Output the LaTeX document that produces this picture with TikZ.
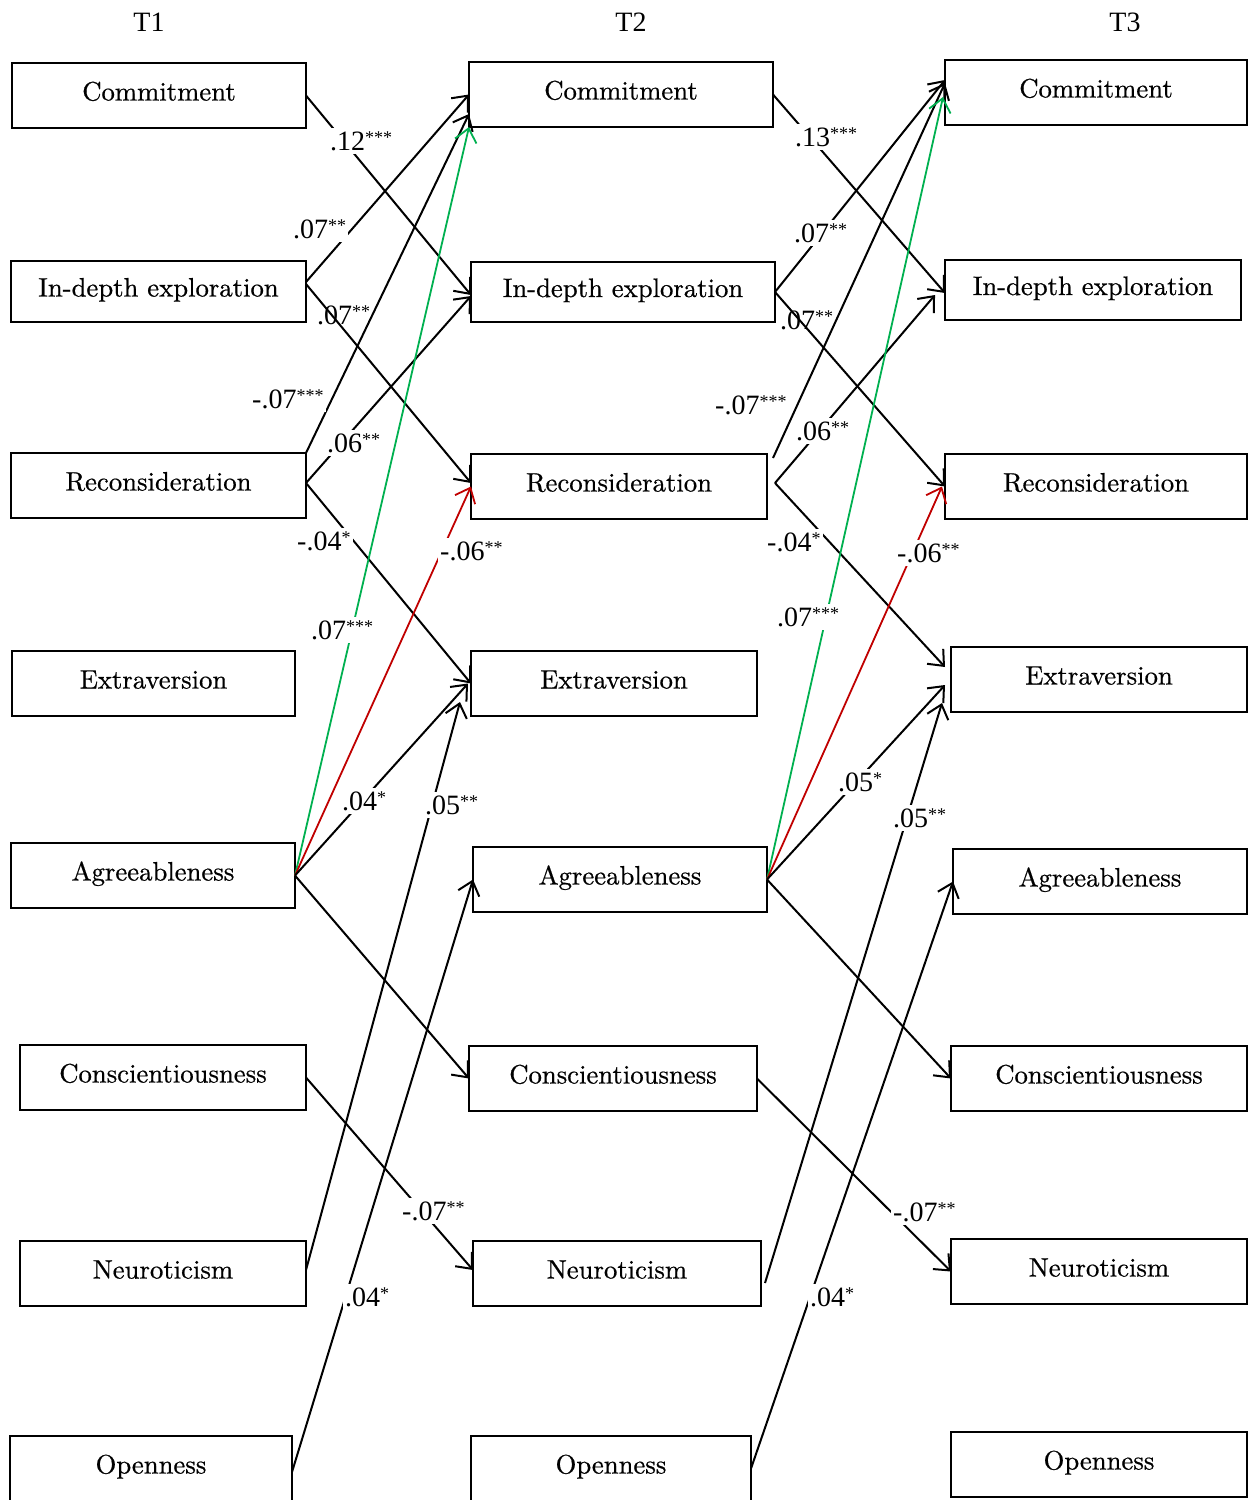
\documentclass[tikz,border=0pt]{standalone}
\usepackage{fontspec}
\newfontfamily\numfont{Liberation Serif}
\newfontfamily\boxfont{lmroman10-regular}[Extension=.otf, FakeBold=0.6]
\usetikzlibrary{arrows.meta}
\definecolor{pgreen}{RGB}{0,176,80}
\definecolor{pred}{RGB}{192,0,0}
\newcommand\boxsize{\boxfont\fontsize{26.7}{30}\selectfont}
\newcommand\labsize{\numfont\fontsize{28}{30}\selectfont}
\newcommand\sig[1]{\raisebox{7pt}{\fontsize{18}{18}\selectfont #1}}
\tikzset{
  vbox/.style={draw, line width=2.5pt, outer sep=0pt, inner sep=0pt, font=\boxsize, text height=20pt, text depth=10pt},
  arr/.style={-{Straight Barb[length=13pt,width=22pt]}, line width=2pt},
  garr/.style={arr, draw=pgreen, line width=1.8pt},
  rarr/.style={arr, draw=pred, line width=1.8pt},
  lab/.style={font=\labsize, fill=white, inner xsep=2pt, inner ysep=3pt, anchor=west},
  labnf/.style={font=\labsize, inner xsep=2pt, inner ysep=2pt, anchor=west},
  ttl/.style={font=\labsize}
}
\begin{document}
\begin{tikzpicture}[x=1pt,y=-1pt]
\useasboundingbox (0,0) rectangle (1248,1500);
\clip (0,0) rectangle (1248,1500);
% titles
\node[ttl] (t1) at (149,22) {T1};
\node[ttl] (t2) at (631,22) {T2};
\node[ttl] (t3) at (1125,22) {T3};
% column 1
\node[vbox, minimum width=294pt, minimum height=65pt] (c1) at (159,95.5) {Commitment};
\node[vbox, minimum width=295pt, minimum height=61pt] (i1) at (158.5,291.5) {In-depth exploration};
\node[vbox, minimum width=295pt, minimum height=65pt] (r1) at (158.5,485.5) {Reconsideration};
\node[vbox, minimum width=283pt, minimum height=65pt] (e1) at (153.5,683.5) {Extraversion};
\node[vbox, minimum width=284pt, minimum height=65pt] (a1) at (153,875.5) {Agreeableness};
\node[vbox, minimum width=286pt, minimum height=65pt] (s1) at (163,1077.5) {Conscientiousness};
\node[vbox, minimum width=286pt, minimum height=65pt] (n1) at (163,1273.5) {Neuroticism};
\node[vbox, minimum width=282pt, minimum height=65pt] (o1) at (151,1468.5) {Openness};
% column 2
\node[vbox, minimum width=304pt, minimum height=65pt] (c2) at (621,94.5) {Commitment};
\node[vbox, minimum width=304pt, minimum height=60pt] (i2) at (623,292) {In-depth exploration};
\node[vbox, minimum width=296pt, minimum height=65pt] (r2) at (619,486.5) {Reconsideration};
\node[vbox, minimum width=286pt, minimum height=65pt] (e2) at (614,683.5) {Extraversion};
\node[vbox, minimum width=294pt, minimum height=65pt] (a2) at (620,879.5) {Agreeableness};
\node[vbox, minimum width=288pt, minimum height=65pt] (s2) at (613,1078.5) {Conscientiousness};
\node[vbox, minimum width=288pt, minimum height=65pt] (n2) at (617,1273.5) {Neuroticism};
\node[vbox, minimum width=280pt, minimum height=65pt] (o2) at (611,1468.5) {Openness};
% column 3
\node[vbox, minimum width=302pt, minimum height=65pt] (c3) at (1096,92.5) {Commitment};
\node[vbox, minimum width=296pt, minimum height=60pt] (i3) at (1093,290) {In-depth exploration};
\node[vbox, minimum width=302pt, minimum height=65pt] (r3) at (1096,486.5) {Reconsideration};
\node[vbox, minimum width=296pt, minimum height=65pt] (e3) at (1099,679.5) {Extraversion};
\node[vbox, minimum width=294pt, minimum height=65pt] (a3) at (1100,881.5) {Agreeableness};
\node[vbox, minimum width=296pt, minimum height=65pt] (s3) at (1099,1078.5) {Conscientiousness};
\node[vbox, minimum width=296pt, minimum height=65pt] (n3) at (1099,1271.5) {Neuroticism};
\node[vbox, minimum width=296pt, minimum height=65pt] (o3) at (1099,1464.5) {Openness};
% T1 -> T2 paths
\draw[arr] (c1.east) -- ([yshift=-3pt]i2.west);
\draw[arr] ([yshift=9.5pt]i1.east) -- (c2.west);
\draw[arr] ([yshift=7.5pt]i1.east) -- ([yshift=3.5pt]r2.west);
\draw[arr] (r1.north east) -- ([yshift=-19.5pt]c2.west);
\draw[arr] ([yshift=2.5pt]r1.east) -- ([yshift=-4pt]i2.west);
\draw[arr] ([yshift=2.5pt]r1.east) -- (e2.west);
\draw[garr] (a1.east) -- (c2.south west);
\draw[rarr] (a1.east) -- (r2.west);
\draw[arr] (a1.east) -- ([xshift=-3pt]e2.west);
\draw[arr] (a1.east) -- (s2.west);
\draw[arr] (s1.east) -- ([yshift=3.5pt]n2.west);
\draw[arr] ([yshift=3.5pt]n1.east) -- ([xshift=-11pt,yshift=-18.5pt]e2.west);
\draw[arr] ([yshift=-3.5pt]o1.east) -- (a2.west);
% T2 -> T3 paths
\draw[arr] (c2.east) -- ([yshift=-3pt]i3.west);
\draw[arr] (i2.east) -- ([yshift=12.5pt]c3.west);
\draw[arr] (i2.east) -- (r3.west);
\draw[arr] ([xshift=6pt,yshift=-4pt]r2.north east) -- ([yshift=9.5pt]c3.west);
\draw[arr] ([xshift=8pt,yshift=3.5pt]r2.east) -- ([xshift=-10pt,yshift=-5pt]i3.west);
\draw[arr] ([xshift=8pt,yshift=3.5pt]r2.east) -- ([xshift=-6pt,yshift=12.5pt]e3.west);
\draw[garr] (a2.east) -- ([xshift=-2pt,yshift=-4.5pt]c3.west);
\draw[rarr] (a2.east) -- ([xshift=-3pt]r3.west);
\draw[arr] (a2.east) -- ([xshift=-6pt,yshift=-5.5pt]e3.west);
\draw[arr] (a2.east) -- (s3.west);
\draw[arr] (s2.east) -- (n3.west);
\draw[arr] ([xshift=4pt,yshift=-9.5pt]n2.east) -- ([xshift=-9pt,yshift=-23.5pt]e3.west);
\draw[arr] (o2.east) -- (a3.west);
% labels T1 -> T2
\node[lab] (l1) at (328,141) {.12\sig{***}\hspace{6pt}};
\node[lab] (l2) at (291,229) {.07\sig{**}\hspace{8pt}};
\node[labnf] (l3) at (315,315) {.07\sig{**}};
\node[lab] (l4) at (250,399) {-.07\sig{***}\hspace{8pt}};
\node[lab] (l5) at (325,443) {.06\sig{**}\hspace{4pt}};
\node[lab] (l6) at (295,541) {-.04\sig{*}\hspace{6pt}};
\node[lab] (l7) at (309,630) {.07\sig{***}\hspace{4pt}};
\node[lab] (l8) at (438,551) {-.06\sig{**}\hspace{4pt}};
\node[lab] (l9) at (340,801) {.04\sig{*}\hspace{4pt}};
\node[lab] (l10) at (423,805) {.05\sig{**}\hspace{4pt}};
\node[lab] (l11) at (400,1211) {-.07\sig{**}\hspace{4pt}};
\node[lab] (l12) at (343,1297) {.04\sig{*}\hspace{6pt}};
% labels T2 -> T3
\node[lab] (m1) at (793,137) {.13\sig{***}\hspace{6pt}};
\node[lab] (m2) at (792,233) {.07\sig{**}\hspace{8pt}};
\node[labnf] (m3) at (778,320) {.07\sig{**}};
\node[lab] (m4) at (713,405) {-.07\sig{***}\hspace{4pt}};
\node[lab] (m5) at (794,431) {.06\sig{**}\hspace{4pt}};
\node[lab] (m6) at (765,542) {-.04\sig{*}\hspace{6pt}};
\node[lab] (m7) at (775,617) {.07\sig{***}\hspace{4pt}};
\node[lab] (m8) at (895,553) {-.06\sig{**}\hspace{4pt}};
\node[lab] (m9) at (836,782) {.05\sig{*}\hspace{4pt}};
\node[lab] (m10) at (891,818) {.05\sig{**}\hspace{4pt}};
\node[lab] (m11) at (891,1212) {-.07\sig{**}\hspace{4pt}};
\node[lab] (m12) at (808,1297) {.04\sig{*}\hspace{6pt}};
\end{tikzpicture}
\end{document}
